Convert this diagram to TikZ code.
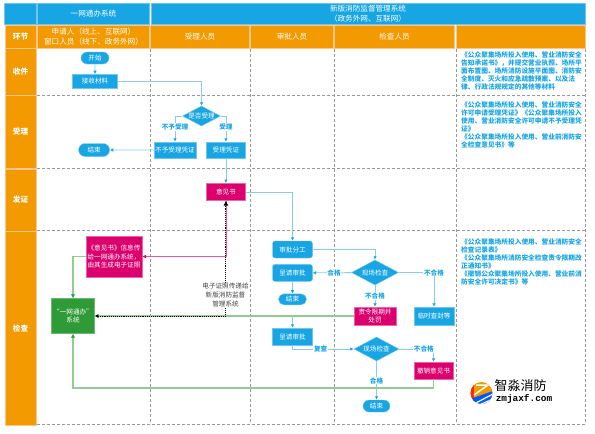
\documentclass[tikz,border=0pt]{standalone}
\usepackage{fontspec}
\setmainfont{Noto Sans CJK SC}
\newfontfamily\logomono{Liberation Mono}
\usepackage{xcolor}
\usetikzlibrary{arrows.meta,positioning,shapes.geometric,shapes.misc}
\definecolor{zmblue}{HTML}{17A5E4}
\definecolor{zmline}{HTML}{86CDEE}
\definecolor{zmedge}{HTML}{6FC6EE}
\definecolor{zmorange}{HTML}{F39A00}
\definecolor{zmpink}{HTML}{DB006E}
\definecolor{zmgreen}{HTML}{2F9B36}
\definecolor{zmgreenline}{HTML}{93CB93}
\newcommand{\headfont}{\fontsize{7.6}{10}\selectfont}
\newcommand{\boxfont}{\fontsize{6.6}{8.6}\selectfont}
\newcommand{\notefont}{\fontsize{6.7}{8}\selectfont}
\tikzset{
  flowarrow/.style={-{Latex[length=3.5pt,width=3.5pt,color=zmblue]}, line width=0.8pt, draw=zmline},
  greenarrow/.style={-{Latex[length=4pt,width=4.5pt,color=zmgreen]}, line width=1.1pt, draw=zmgreenline},
  pinkarrow/.style={-{Latex[length=4pt,width=4pt,color=zmpink]}, line width=0.8pt, draw=zmpink!65},
  certarrow/.style={{Latex[length=3.5pt,width=3.5pt]}-{Latex[length=5pt,width=5pt]}, line width=0.9pt, densely dotted, draw=black},
  gridline/.style={draw=black!40, line width=0.5pt, densely dashed},
  headblue/.style={draw=zmedge, fill=zmblue, text=white, align=center, inner sep=0pt, font=\headfont},
  headorange/.style={draw=orange!45, fill=zmorange, text=white, align=center, inner sep=0pt, font=\headfont},
  rowhead/.style={headorange, minimum width=31pt, font=\headfont\bfseries},
  flowbox/.style={draw=zmedge, fill=zmblue, text=white, align=center, inner sep=0pt, minimum height=16pt, font=\boxfont},
  roundbox/.style={flowbox, rounded corners=2.5pt},
  endbox/.style={draw=zmedge, fill=zmblue, text=white, align=center, inner sep=0pt, rounded rectangle, font=\boxfont},
  pinkbox/.style={flowbox, fill=zmpink, draw=zmpink!60},
  greenbox/.style={flowbox, fill=zmgreen, draw=zmgreen!70},
  check/.style={draw=zmedge, fill=zmblue, text=white, diamond, inner sep=0pt, aspect=1.9, font=\boxfont},
  edgelabel/.style={fill=white, inner sep=0.8pt, text=zmblue, font=\boxfont\bfseries},
  darklabel/.style={fill=white, inner sep=0.8pt, text=black!75, align=center, font=\boxfont},
  note/.style={anchor=north west, text=zmblue, align=left, inner sep=0pt, font=\notefont\bfseries}
}
\begin{document}
\begin{tikzpicture}[x=1pt,y=-1pt]
  \useasboundingbox (0,0) rectangle (595,434);

  \draw[gridline] (37,95) -- (585,95);
  \draw[gridline] (37,168) -- (585,168);
  \draw[gridline] (37,230) -- (585,230);
  \draw[gridline] (37,424) -- (585,424);
  \draw[gridline] (150,49) -- (150,424);
  \draw[gridline] (250,49) -- (250,424);
  \draw[gridline] (334,49) -- (334,424);
  \draw[gridline] (456,49) -- (456,424);
  \draw[gridline] (585,49) -- (585,424);

  \node[headblue, minimum width=32pt, minimum height=21pt] (corner) at (20.5,13.5) {};
  \node[headblue, minimum width=112pt, minimum height=21pt] (sysa) at (93.5,13.5) {一网通办系统};
  \node[headblue, minimum width=434pt, minimum height=21pt] (sysb) at (368,13.5) {新版消防监督管理系统\\（政务外网、互联网）};

  \node[rowhead, minimum height=23pt] (stage) at (20.5,36.5) {环节};
  \node[headorange, minimum width=112pt, minimum height=23pt] (applicant) at (93.5,36.5) {申请人（线上、互联网）\\窗口人员（线下、政务外网）};
  \node[headorange, minimum width=99pt, minimum height=23pt] (staffa) at (200,36.5) {受理人员};
  \node[headorange, minimum width=83pt, minimum height=23pt] (staffb) at (292,36.5) {审批人员};
  \node[headorange, minimum width=120pt, minimum height=23pt] (staffc) at (394.5,36.5) {检查人员};
  \node[headorange, minimum width=129pt, minimum height=23pt] (blank) at (520.5,36.5) {};

  \node[rowhead, minimum height=47pt] (rowa) at (20.5,71.5) {收件};
  \node[rowhead, minimum height=73pt, below=0pt of rowa] (rowb) {受理};
  \node[rowhead, minimum height=62pt, below=0pt of rowb] (rowc) {发证};
  \node[rowhead, minimum height=194pt, below=0pt of rowc] (rowd) {检查};

  \node[endbox, minimum width=28pt, minimum height=12pt] (start) at (95,58) {开始};
  \node[flowbox, minimum width=45pt, minimum height=14pt, below=10pt of start] (receive) {接收材料};
  \node[check] (decide) at (201.5,116) {是否受理};
  \node[flowbox, minimum width=42pt] (refuse) at (175,150) {不予受理凭证};
  \node[flowbox, minimum width=39pt, right=10pt of refuse] (accept) {受理凭证};
  \node[endbox, minimum width=31pt, minimum height=13pt, left=44pt of refuse] (endone) {结束};
  \node[pinkbox, minimum width=39pt, minimum height=17pt, below=25pt of accept] (opinion) {意见书};
  \node[pinkbox, minimum width=56pt, minimum height=41pt] (notice) at (114,256.5) {《意见书》信息传\\给一网通办系统，\\由其生成电子证照};
  \node[greenbox, minimum width=43pt, minimum height=35pt] (card) at (73,316) {“一网通办”\\系统};
  \node[roundbox, minimum width=40pt, minimum height=17pt] (assign) at (292.5,249.5) {审批分工};
  \node[roundbox, minimum width=40pt, minimum height=17pt, below=6pt of assign] (reviewa) {呈请审批};
  \node[endbox, minimum width=28pt, minimum height=11pt, below=12pt of reviewa] (endtwo) {结束};
  \node[flowbox, minimum width=40pt, minimum height=17pt] (reviewb) at (292.5,336.5) {呈请审批};
  \node[check, minimum width=47pt, minimum height=25pt] (inspecta) at (375,272.5) {现场检查};
  \node[pinkbox, minimum width=42pt, minimum height=18pt] (order) at (375,316) {责令限期并\\处罚};
  \node[flowbox, minimum width=40pt, minimum height=18pt] (seal) at (434,316) {临时查封等};
  \node[check, minimum width=45pt, minimum height=24pt] (inspectb) at (376.5,349) {现场检查};
  \node[pinkbox, minimum width=39pt, minimum height=17pt] (revoke) at (433.5,370.5) {撤销意见书};
  \node[endbox, minimum width=27pt, minimum height=12pt] (endthree) at (376.5,406) {结束};

  \coordinate (mergea) at (reviewb |- card);
  \coordinate (backturn) at (376.5,388);

  \draw[flowarrow] (start) -- (receive);
  \draw[flowarrow] (receive) -| (decide);
  \draw[flowarrow] (decide.west) -| node[edgelabel, pos=0.72] (refuselabel) {不予受理} (refuse);
  \draw[flowarrow] (decide.east) -| node[edgelabel, pos=0.72] (acceptlabel) {受理} (accept);
  \draw[flowarrow] (refuse) -- (endone);
  \draw[flowarrow] (accept) -- (opinion);
  \draw[flowarrow] (opinion) -| (assign);
  \draw[flowarrow] (assign) -| (inspecta);
  \draw[flowarrow] (inspecta) -- node[edgelabel, pos=0.45] (passa) {合格} (reviewa);
  \draw[flowarrow] (reviewa) -- (endtwo);
  \draw[flowarrow] (inspecta) -- node[edgelabel] (faila) {不合格} (order);
  \draw[flowarrow] (inspecta) -| node[edgelabel, pos=0.5] (failb) {不合格} (seal);
  \draw[flowarrow] (mergea) -- (reviewb);
  \draw[flowarrow] (reviewb.south) |- node[edgelabel, pos=0.73] (again) {复查} (inspectb.west);
  \draw[flowarrow] (inspectb) -| node[edgelabel, pos=0.36] (failc) {不合格} (revoke);
  \draw[flowarrow] (inspectb) -- node[edgelabel, pos=0.5] (passb) {合格} (endthree);

  \draw[pinkarrow] (opinion) |- (notice);
  \draw[greenarrow] (notice) -| (card);
  \draw[greenarrow] (order) -- (card);
  \draw[greenarrow] (revoke.south) |- (backturn) -| (card.south);
  \draw[certarrow] (card.east) -| (opinion.south);
  \node[darklabel] (certlabel) at (225.5,295) {电子证照传递给\\新版消防监督\\管理系统};

  \node[note] (notea) at (461,51) {《公众聚集场所投入使用、营业消防安全\\告知承诺书》，并提交营业执照、场所平\\面布置图、场所消防设施平面图、消防安\\全制度、灭火和应急疏散预案、以及法\\律、行政法规规定的其他等材料};
  \node[note] (noteb) at (461,101) {《公众聚集场所投入使用、营业消防安全\\许可申请受理凭证》《公众聚集场所投入\\使用、营业消防安全许可申请不予受理凭\\证》\\《公众聚集场所投入使用、营业前消防安\\全检查意见书》等};
  \node[note] (notec) at (461,238) {《公众聚集场所投入使用、营业消防安全\\检查记录表》\\《公众聚集场所消防安全检查责令限期改\\正通知书》\\《撤销公众聚集场所投入使用、营业前消\\防安全许可决定书》等};

  \begin{scope}
    \clip (481.5,393) circle (11);
    \fill[zmorange] (470,381) rectangle (493,405);
    \fill[red!70!orange] (470,381) rectangle (474,405);
    \fill[blue!65!cyan] (470,399) -- (493,391) -- (493,405) -- (470,405) -- cycle;
    \draw[white, line width=1.2pt] (472,405) -- (493,394);
    \draw[white, line width=1.2pt] (479,405) -- (493,399);
    \draw[white, line width=1.5pt] (476,385) -- (488,385) -- (474,395);
  \end{scope}
  \node[inner sep=0pt, font=\fontsize{13}{13}\selectfont] (logoname) at (520.5,386) {智淼消防};
  \node[inner sep=0pt, font=\logomono\bfseries\fontsize{9.4}{9.4}\selectfont] (logourl) at (524,399) {zmjaxf.com};
\end{tikzpicture}
\end{document}
